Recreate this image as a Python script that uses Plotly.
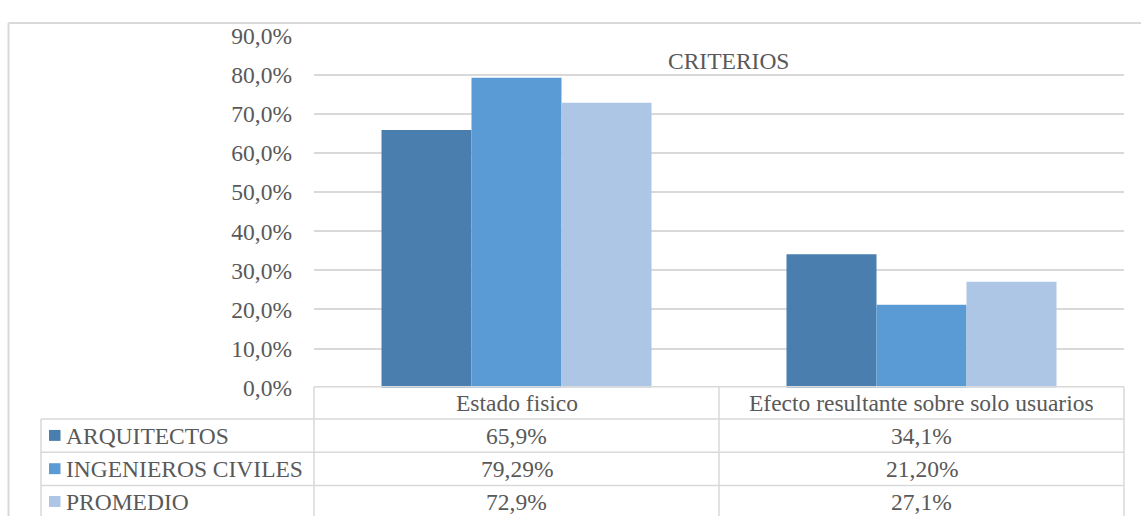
import plotly.graph_objects as go

categories = ["Estado fisico", "Efecto resultante sobre solo usuarios"]
series_names = ["ARQUITECTOS", "INGENIEROS CIVILES", "PROMEDIO"]
arquitectos = [0.659, 0.341]
ingenieros = [0.7929, 0.2120]
promedio = [0.729, 0.271]
table_labels = [["65,9%", "34,1%"], ["79,29%", "21,20%"], ["72,9%", "27,1%"]]
colors = ["#4A7EAF", "#5B9BD5", "#ADC6E6"]
title = "CRITERIOS"

W, H = 1141, 529
FONT = "Liberation Serif"
FS = 23.5
TXT = "#595959"
GRID = "#D9D9D9"

def px(x):
    return x / W

def py(y):
    return 1 - y / H

fig = go.Figure()
for name, vals, col in zip(series_names, [arquitectos, ingenieros, promedio], colors):
    fig.add_trace(go.Bar(x=categories, y=vals, name=name, marker_color=col,
                         marker_line_width=0))

x0, x1 = 314, 1124
y_top, y_bot = 24, 394
shapes = []
line = dict(color=GRID, width=1.5)
# outer border
shapes.append(dict(type="line", xref="paper", yref="paper", x0=px(8.5), x1=px(1141), y0=py(10.5), y1=py(10.5), line=dict(color=GRID, width=2)))
shapes.append(dict(type="line", xref="paper", yref="paper", x0=px(8.5), x1=px(8.5), y0=py(10.5), y1=py(529), line=dict(color=GRID, width=2)))
# table
row_y = [393, 427, 462, 497]
shapes.append(dict(type="line", xref="paper", yref="paper", x0=px(x0), x1=px(x1), y0=py(393), y1=py(393), line=line))
for yy in row_y[1:]:
    shapes.append(dict(type="line", xref="paper", yref="paper", x0=px(41), x1=px(x1), y0=py(yy), y1=py(yy), line=line))
shapes.append(dict(type="line", xref="paper", yref="paper", x0=px(41), x1=px(41), y0=py(427), y1=py(529), line=line))
col_x = [x0, (x0 + x1) / 2, x1]
for xx in col_x:
    shapes.append(dict(type="line", xref="paper", yref="paper", x0=px(xx), x1=px(xx), y0=py(393), y1=py(529), line=line))

annotations = []
annotations.append(dict(text=title, x=px(728), y=py(50), xref="paper", yref="paper", showarrow=False,
                        font=dict(family=FONT, size=FS, color=TXT), xanchor="center", yanchor="middle"))
centers_x = [(x0 + col_x[1]) / 2, (col_x[1] + x1) / 2]
for c, cat in zip(centers_x, categories):
    annotations.append(dict(text=cat, x=px(c), y=py(410), xref="paper", yref="paper", showarrow=False,
                            font=dict(family=FONT, size=FS, color=TXT), xanchor="center", yanchor="middle"))
row_centers = [444.5, 479.5, 514]
for i, (name, col) in enumerate(zip(series_names, colors)):
    yc = row_centers[i]
    shapes.append(dict(type="rect", xref="paper", yref="paper", x0=px(49), x1=px(60.5),
                       y0=py(yc - 6), y1=py(yc + 5.5), fillcolor=col, line=dict(width=0)))
    annotations.append(dict(text=name, x=px(64), y=py(yc), xref="paper", yref="paper", showarrow=False,
                            font=dict(family=FONT, size=FS, color=TXT), xanchor="left", yanchor="middle"))
    for c, lab in zip(centers_x, table_labels[i]):
        annotations.append(dict(text=lab, x=px(c), y=py(yc), xref="paper", yref="paper", showarrow=False,
                                font=dict(family=FONT, size=FS, color=TXT), xanchor="center", yanchor="middle"))

fig.update_layout(
    width=W, height=H,
    margin=dict(l=0, r=0, t=0, b=0),
    paper_bgcolor="white", plot_bgcolor="white",
    barmode="group", bargap=1/3, bargroupgap=0,
    showlegend=False,
    separators=",.",
    font=dict(family=FONT, size=FS, color=TXT),
    xaxis=dict(domain=[px(x0), px(x1)], showticklabels=False, showgrid=False, zeroline=False,
               showline=False, fixedrange=True),
    yaxis=dict(domain=[py(y_bot), py(y_top)], range=[0, 0.9], dtick=0.1, tickformat=".1%",
               showgrid=True, gridcolor=GRID, gridwidth=1.5, zeroline=False, showline=False,
               ticklabelstandoff=21, tickfont=dict(family=FONT, size=FS, color=TXT)),
    shapes=shapes, annotations=annotations,
)
fig.write_html("out.html")
